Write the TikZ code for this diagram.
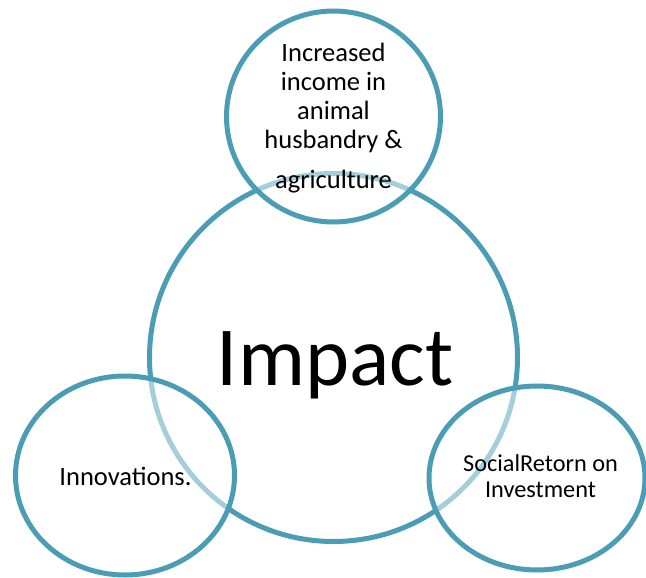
\documentclass[tikz,border=0pt]{standalone}
\usepackage{fontspec}
\setmainfont{Carlito}
\usetikzlibrary{shapes.geometric}
\definecolor{ringcolor}{HTML}{4A9DB5}

\begin{document}
\begin{tikzpicture}[x=1pt, y=-1pt,
    every node/.style={font=\fontsize{26.5}{29}\selectfont},
    ring/.style={
        ellipse, draw=ringcolor, line width=5pt,
        inner sep=0pt, outer sep=0pt,
    },
    satellite/.style={ring, fill=white, fill opacity=0.5},
    ringtext/.style={align=center, inner sep=0pt, anchor=base},
]
\useasboundingbox (0,0) rectangle (646,578);

% -- central ring
\node[ring, minimum width=368pt, minimum height=368pt] (impact) at (333.5,357.5) {};

% -- satellite rings
\node[satellite, minimum width=214pt, minimum height=211pt] (income) at (333.5,116.5) {};
\node[satellite, minimum width=219pt, minimum height=199pt] (innov) at (125,475.5) {};
\node[satellite, minimum width=216pt, minimum height=184pt] (sroi) at (537,478) {};

% -- labels (base = last line)
\node[ringtext, font=\fontsize{84}{100}\selectfont] (impacttext) at (335,385) {Impact};
\node[ringtext] (incometext) at (333.5,188)
    {Increased\\income in\\animal\\husbandry \&\\[11pt]agriculture};
\node[ringtext] (innovtext) at (125.5,485) {Innovations.};
\node[ringtext, font=\fontsize{24.3}{26}\selectfont] (sroitext) at (540.5,497)
    {SocialRetorn on\\Investment};

\end{tikzpicture}
\end{document}
